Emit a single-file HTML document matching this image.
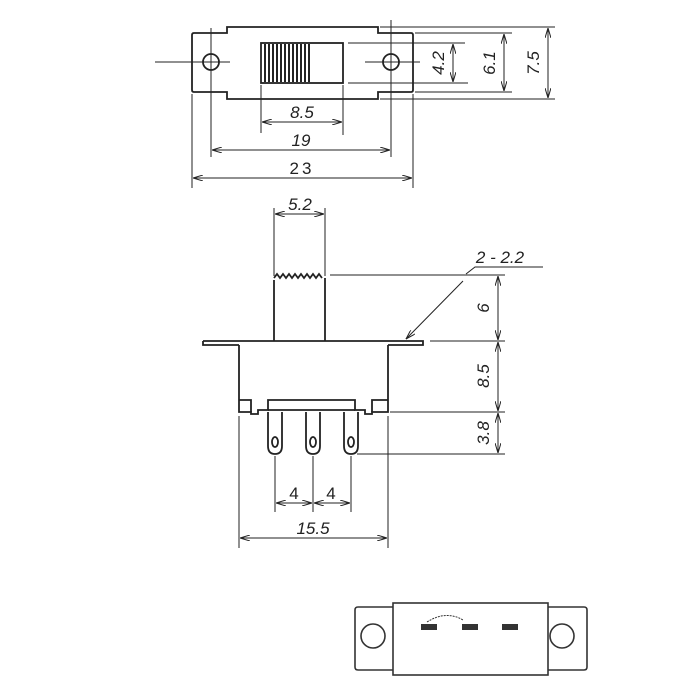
<!DOCTYPE html>
<html><head><style>html,body{margin:0;padding:0;background:#fff}svg{display:block}</style></head>
<body>
<svg width="700" height="700" viewBox="0 0 700 700" xmlns="http://www.w3.org/2000/svg" font-family="Liberation Sans, sans-serif">
<defs>
<marker id="a" viewBox="0 0 10 6" refX="10" refY="3" markerWidth="10" markerHeight="6" orient="auto-start-reverse" markerUnits="userSpaceOnUse"><path d="M0,0 L10,3 L0,6" fill="none" stroke="#222" stroke-width="1"/></marker>
<pattern id="h" width="4" height="10" patternUnits="userSpaceOnUse"><rect width="4" height="10" fill="#fff"/><rect width="2" height="10" fill="#222"/></pattern>
</defs>
<g stroke="#222" stroke-width="1.8" fill="none">
<path d="M194,33 H227 V27 H378 V33 H411 Q413,33 413,35 V90 Q413,92 411,92 H378 V99 H227 V92 H194 Q192,92 192,90 V35 Q192,33 194,33 Z"/>
<circle cx="211" cy="62" r="8"/><circle cx="391" cy="62" r="8"/>
<rect x="261" y="43" width="82" height="40"/>
<rect x="262" y="44" width="50" height="38" fill="url(#h)" stroke="none"/>
</g>
<g stroke="#222" stroke-width="1" fill="none">
<line x1="155" y1="62" x2="230" y2="62"/><line x1="211" y1="28" x2="211" y2="157"/>
<line x1="365" y1="62" x2="420" y2="62"/><line x1="391" y1="20" x2="391" y2="157"/>
<line x1="261" y1="85" x2="261" y2="133"/><line x1="343" y1="85" x2="343" y2="135"/>
<line x1="192" y1="94" x2="192" y2="188"/><line x1="413" y1="94" x2="413" y2="188"/>
<line x1="262" y1="122" x2="342" y2="122" marker-start="url(#a)" marker-end="url(#a)"/>
<line x1="212" y1="150" x2="390" y2="150" marker-start="url(#a)" marker-end="url(#a)"/>
<line x1="193" y1="178" x2="412" y2="178" marker-start="url(#a)" marker-end="url(#a)"/>
<line x1="380" y1="27" x2="555" y2="27"/><line x1="380" y1="99" x2="555" y2="99"/>
<line x1="415" y1="33" x2="512" y2="33"/><line x1="415" y1="92" x2="512" y2="92"/>
<line x1="348" y1="43" x2="465" y2="43"/><line x1="348" y1="83" x2="468" y2="83"/>
<line x1="453" y1="44" x2="453" y2="82" marker-start="url(#a)" marker-end="url(#a)"/>
<line x1="504" y1="34" x2="504" y2="91" marker-start="url(#a)" marker-end="url(#a)"/>
<line x1="548" y1="28" x2="548" y2="98" marker-start="url(#a)" marker-end="url(#a)"/>
</g>
<g font-size="17" fill="#222" font-style="italic">
<text x="302" y="118" text-anchor="middle">8.5</text>
<text x="301" y="146" text-anchor="middle">19</text>
<text x="302" y="174" text-anchor="middle" font-style="normal" letter-spacing="3">23</text>
<text transform="translate(444,63) rotate(-90)" text-anchor="middle">4.2</text>
<text transform="translate(495,63) rotate(-90)" text-anchor="middle">6.1</text>
<text transform="translate(539,63) rotate(-90)" text-anchor="middle">7.5</text>
</g>
<g stroke="#222" stroke-width="1.8" fill="none">
<path d="M274,341 V280 M325,341 V278"/>
<path d="M274,278 l3,-4 l3,4 l3,-4 l3,4 l3,-4 l3,4 l3,-4 l3,4 l3,-4 l3,4 l3,-4 l3,4 l3,-4 l3,4 l3,-4 l3,4"/>
<path d="M203,341 H423 V345 H388 M203,341 V345 H239"/>
<path d="M239,345 V412 H251 V414 H258 V410 H268 V400 H355 V410 H365 V414 H372 V412 H388 V345"/>
<path d="M239,400 H251 V412 M388,400 H372 V412 M268,410 H355"/>
<path d="M268,412 V446 Q268,454 275,454 Q282,454 282,446 V412"/>
<path d="M306,412 V446 Q306,454 313,454 Q320,454 320,446 V412"/>
<path d="M344,412 V446 Q344,454 351,454 Q358,454 358,446 V412"/>
<ellipse cx="275" cy="442" rx="3" ry="5"/><ellipse cx="313" cy="442" rx="3" ry="5"/><ellipse cx="351" cy="442" rx="3" ry="5"/>
</g>
<g stroke="#222" stroke-width="1" fill="none">
<line x1="274" y1="208" x2="274" y2="276"/><line x1="325" y1="208" x2="325" y2="276"/>
<line x1="275" y1="214" x2="324" y2="214" marker-start="url(#a)" marker-end="url(#a)"/>
<line x1="330" y1="275" x2="505" y2="275"/><line x1="430" y1="341" x2="505" y2="341"/>
<line x1="390" y1="412" x2="505" y2="412"/><line x1="357" y1="454" x2="505" y2="454"/>
<line x1="498" y1="276" x2="498" y2="340" marker-start="url(#a)" marker-end="url(#a)"/>
<line x1="498" y1="342" x2="498" y2="411" marker-start="url(#a)" marker-end="url(#a)"/>
<line x1="498" y1="413" x2="498" y2="453" marker-start="url(#a)" marker-end="url(#a)"/>
<polyline points="543,267 475,267 466,274"/>
<line x1="463" y1="281" x2="406" y2="339" marker-end="url(#a)"/>
<line x1="275" y1="456" x2="275" y2="512"/><line x1="313" y1="456" x2="313" y2="512"/><line x1="351" y1="456" x2="351" y2="512"/>
<line x1="239" y1="416" x2="239" y2="548"/><line x1="388" y1="416" x2="388" y2="548"/>
<line x1="276" y1="503" x2="312" y2="503" marker-start="url(#a)" marker-end="url(#a)"/>
<line x1="314" y1="503" x2="350" y2="503" marker-start="url(#a)" marker-end="url(#a)"/>
<line x1="240" y1="538" x2="387" y2="538" marker-start="url(#a)" marker-end="url(#a)"/>
</g>
<g font-size="17" fill="#222" font-style="italic">
<text x="300" y="210" text-anchor="middle">5.2</text>
<text x="500" y="263" text-anchor="middle">2 - 2.2</text>
<text transform="translate(489,308) rotate(-90)" text-anchor="middle">6</text>
<text transform="translate(489,376) rotate(-90)" text-anchor="middle">8.5</text>
<text transform="translate(489,433) rotate(-90)" text-anchor="middle">3.8</text>
<text x="294" y="499" text-anchor="middle" font-style="normal">4</text>
<text x="331" y="499" text-anchor="middle" font-style="normal">4</text>
<text x="313" y="534" text-anchor="middle">15.5</text>
</g>
<g stroke="#333" stroke-width="1.6" fill="none">
<path d="M393,607 H358 Q355,607 355,610 V667 Q355,670 358,670 H393"/>
<path d="M548,607 H584 Q587,607 587,610 V667 Q587,670 584,670 H548"/>
<rect x="393" y="603" width="155" height="72"/>
<circle cx="373" cy="636" r="12"/><circle cx="562" cy="636" r="12"/>
<path d="M427,622 Q446,610 463,620" stroke-width="1" stroke-dasharray="2,1"/>
</g>
<g fill="#333"><rect x="421" y="624" width="16" height="6"/><rect x="462" y="624" width="16" height="6"/><rect x="502" y="624" width="16" height="6"/></g>
</svg>
</body></html>
